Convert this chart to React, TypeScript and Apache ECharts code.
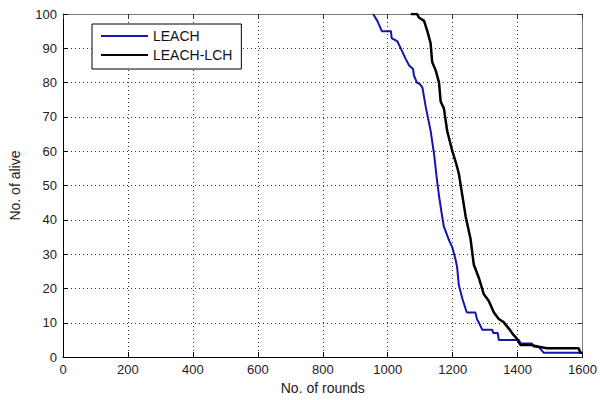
import React, { useEffect, useRef } from "react";
import * as echarts from "echarts";

// LEACH (blue) — rounds and alive nodes
const leachRounds = [955, 968, 982, 1010, 1012, 1030, 1035, 1050, 1055, 1066, 1078, 1081, 1090, 1100, 1107, 1117, 1132, 1143, 1150, 1158, 1166, 1173, 1189, 1199, 1210, 1214, 1219, 1230, 1240, 1244, 1270, 1275, 1281, 1291, 1322, 1325, 1339, 1342, 1404, 1409, 1444, 1450, 1465, 1480, 1595];
const leachAlive = [100, 98, 95, 95, 93, 92, 91, 88, 87, 85, 84, 82, 80, 79.5, 78.5, 73, 66, 59, 53, 47, 42, 38, 34, 32, 28, 26, 21, 17, 14, 13, 13, 11, 10, 8, 8, 7, 7, 5, 5, 4, 4, 3, 3, 1.3, 1.3];

// LEACH-LCH (black)
const lchRounds = [1071, 1090, 1096, 1112, 1122, 1132, 1137, 1148, 1158, 1163, 1173, 1183, 1199, 1209, 1219, 1230, 1240, 1255, 1265, 1281, 1296, 1311, 1327, 1342, 1357, 1373, 1388, 1398, 1409, 1444, 1465, 1490, 1588, 1593, 1600];
const lchAlive = [100, 100, 99, 98, 95, 91.5, 86, 83.5, 80, 74.5, 72.5, 66, 60, 57, 53.5, 47, 41, 34.5, 27, 23, 18.3, 16.4, 13, 11.1, 10.2, 8.3, 6.4, 5.4, 3.5, 3.5, 3, 2.6, 2.6, 1.3, 1.3];

const seriesNames = ["LEACH", "LEACH-LCH"];
const xTitle = "No. of rounds";
const yTitle = "No. of alive";

const FONT = "'Liberation Sans', Arial, Helvetica, sans-serif";

export default function App() {
  const ref = useRef<HTMLDivElement>(null);
  useEffect(() => {
    document.body.style.margin = "0";
    if (!ref.current) return;
    const chart = echarts.init(ref.current, null, { renderer: "svg" });
    const pair = (xs: number[], ys: number[]) => xs.map((x, i) => [x, ys[i]]);
    const frameGray = "#7a7a7a";
    const plain = (v: number) => String(v);
    const mainAxisX = {
      type: "value",
      min: 0,
      max: 1600,
      interval: 200,
      position: "bottom",
      axisLine: { show: true, onZero: false, lineStyle: { color: "#000", width: 1 } },
      axisTick: { show: true, inside: true, length: 5, lineStyle: { color: "#000" } },
      axisLabel: { color: "#222", fontSize: 13, margin: 6, fontFamily: FONT, formatter: plain },
      splitLine: { show: true, lineStyle: { color: "#333", width: 1, type: [1, 3] } },
      name: xTitle,
      nameLocation: "middle",
      nameGap: 22,
      nameTextStyle: { color: "#222", fontSize: 14, fontFamily: FONT },
    };
    const topAxisX = {
      type: "value",
      min: 0,
      max: 1600,
      interval: 200,
      position: "top",
      axisLine: { show: true, onZero: false, lineStyle: { color: frameGray, width: 1 } },
      axisTick: { show: true, inside: true, length: 5, lineStyle: { color: "#333" } },
      axisLabel: { show: false },
      splitLine: { show: false },
    };
    const mainAxisY = {
      type: "value",
      min: 0,
      max: 100,
      interval: 10,
      position: "left",
      axisLine: { show: true, onZero: false, lineStyle: { color: "#000", width: 1 } },
      axisTick: { show: true, inside: true, length: 5, lineStyle: { color: "#000" } },
      axisLabel: { color: "#222", fontSize: 13, margin: 6, fontFamily: FONT, formatter: plain },
      splitLine: { show: true, lineStyle: { color: "#333", width: 1, type: [1, 3] } },
      name: yTitle,
      nameLocation: "middle",
      nameGap: 41,
      nameTextStyle: { color: "#222", fontSize: 14, fontFamily: FONT },
    };
    const rightAxisY = {
      type: "value",
      min: 0,
      max: 100,
      interval: 10,
      position: "right",
      axisLine: { show: true, onZero: false, lineStyle: { color: frameGray, width: 1 } },
      axisTick: { show: true, inside: true, length: 5, lineStyle: { color: "#333" } },
      axisLabel: { show: false },
      splitLine: { show: false },
    };
    chart.setOption({
      animation: false,
      backgroundColor: "#fff",
      grid: { left: 63, right: 16, top: 14, bottom: 36, containLabel: false },
      xAxis: [mainAxisX, topAxisX],
      yAxis: [mainAxisY, rightAxisY],
      legend: {
        left: 92,
        top: 24,
        orient: "vertical",
        backgroundColor: "#fff",
        borderColor: "#000",
        borderWidth: 1,
        borderRadius: 0,
        padding: [5, 9, 7, 9],
        itemGap: 5,
        itemWidth: 47,
        itemHeight: 2,
        icon: "rect",
        textStyle: { color: "#111", fontSize: 14, lineHeight: 14, fontFamily: FONT },
        data: seriesNames,
      },
      series: [
        {
          name: seriesNames[0],
          type: "line",
          xAxisIndex: 0,
          yAxisIndex: 0,
          symbol: "none",
          data: pair(leachRounds, leachAlive),
          lineStyle: { color: "#1414ae", width: 2 },
          itemStyle: { color: "#1414ae" },
          z: 3,
        },
        {
          name: seriesNames[1],
          type: "line",
          xAxisIndex: 0,
          yAxisIndex: 0,
          symbol: "none",
          data: pair(lchRounds, lchAlive),
          lineStyle: { color: "#000", width: 2.5 },
          itemStyle: { color: "#000" },
          z: 4,
        },
      ],
    });
    return () => chart.dispose();
  }, []);
  return <div ref={ref} style={{ width: 600, height: 400 }} />;
}
